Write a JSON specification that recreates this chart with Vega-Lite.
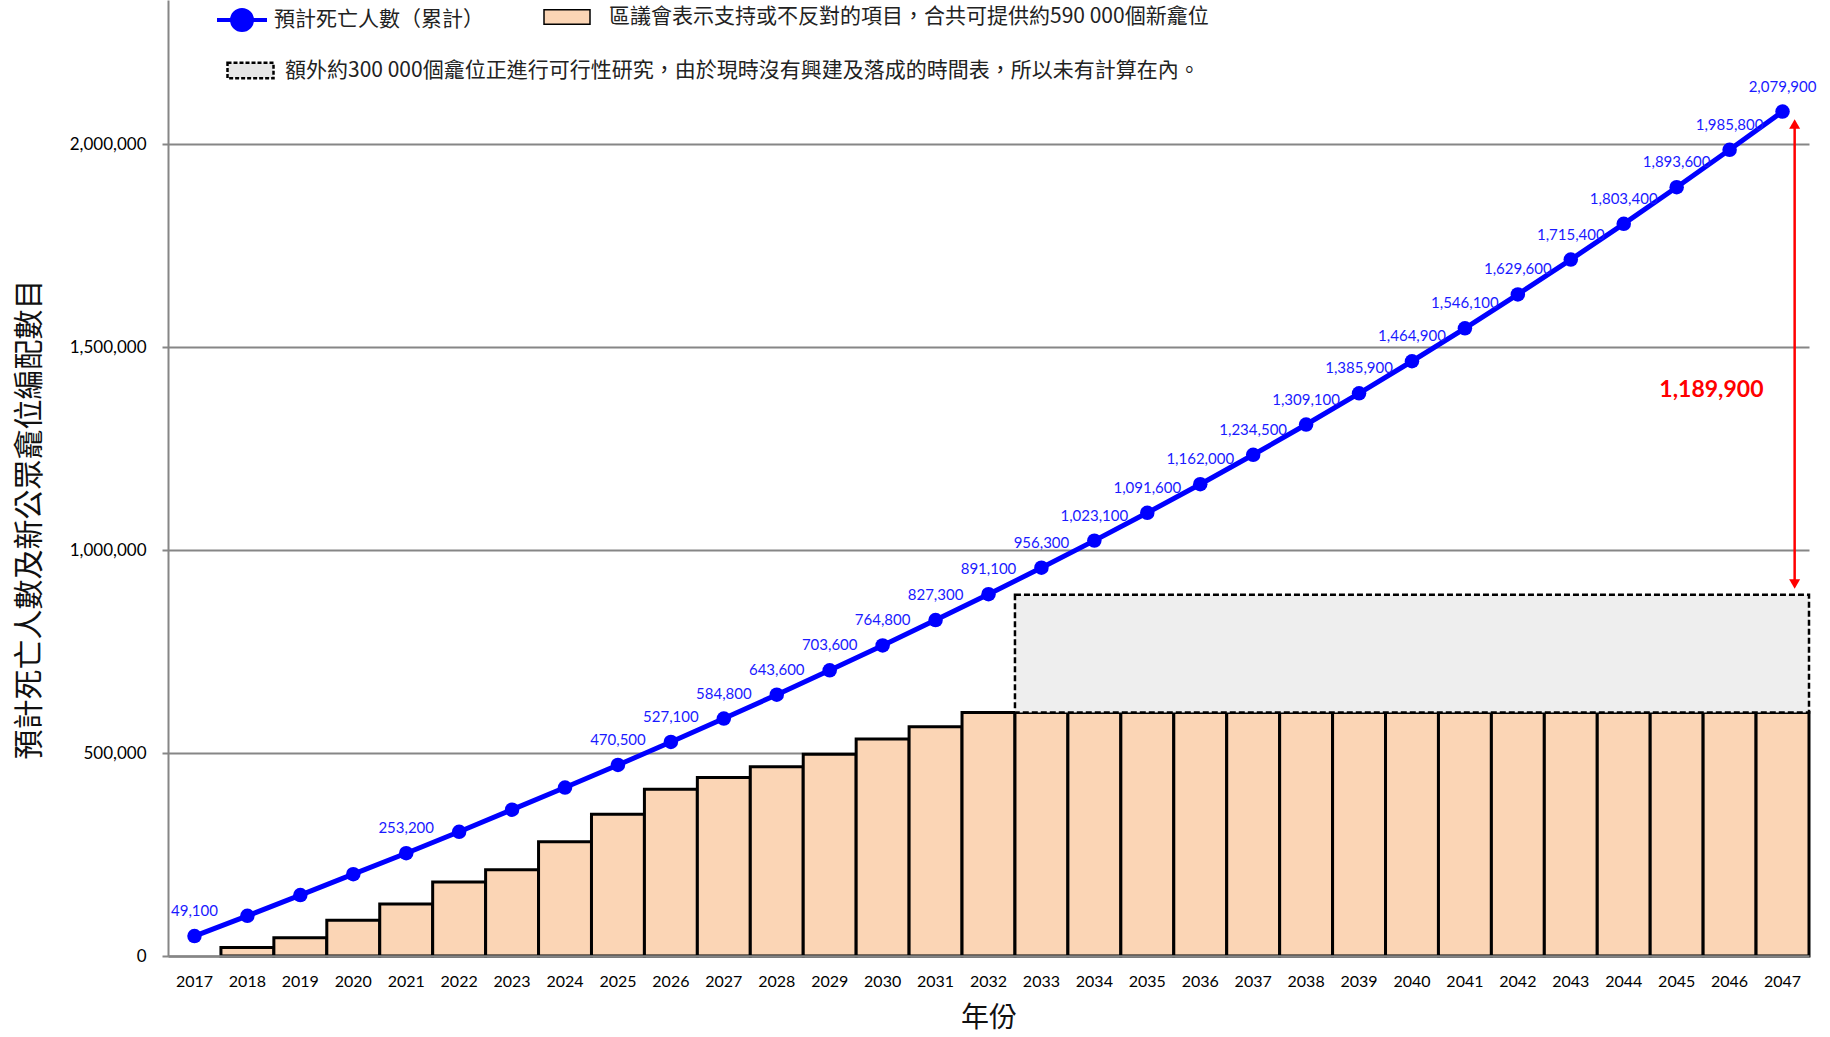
{
  "$schema": "https://vega.github.io/schema/vega-lite/v6.json",
  "width": 1641,
  "height": 956,
  "autosize": "none",
  "padding": {"left": 168, "top": 0, "right": 21, "bottom": 81},
  "background": "white",
  "config": {"view": {"stroke": null}, "font": "Lato"},
  "datasets": {
    "main": [
      {"year": 2017, "deaths": 49100, "niches": 0},
      {"year": 2018, "deaths": 99000, "niches": 21000},
      {"year": 2019, "deaths": 150000, "niches": 45000},
      {"year": 2020, "deaths": 201500, "niches": 88000},
      {"year": 2021, "deaths": 253200, "niches": 128000},
      {"year": 2022, "deaths": 306000, "niches": 182000},
      {"year": 2023, "deaths": 360500, "niches": 212500},
      {"year": 2024, "deaths": 415000, "niches": 281500},
      {"year": 2025, "deaths": 470500, "niches": 349000},
      {"year": 2026, "deaths": 527100, "niches": 411000},
      {"year": 2027, "deaths": 584800, "niches": 439500},
      {"year": 2028, "deaths": 643600, "niches": 466000},
      {"year": 2029, "deaths": 703600, "niches": 497000},
      {"year": 2030, "deaths": 764800, "niches": 534500},
      {"year": 2031, "deaths": 827300, "niches": 564500},
      {"year": 2032, "deaths": 891100, "niches": 600000},
      {"year": 2033, "deaths": 956300, "niches": 600000},
      {"year": 2034, "deaths": 1023100, "niches": 600000},
      {"year": 2035, "deaths": 1091600, "niches": 600000},
      {"year": 2036, "deaths": 1162000, "niches": 600000},
      {"year": 2037, "deaths": 1234500, "niches": 600000},
      {"year": 2038, "deaths": 1309100, "niches": 600000},
      {"year": 2039, "deaths": 1385900, "niches": 600000},
      {"year": 2040, "deaths": 1464900, "niches": 600000},
      {"year": 2041, "deaths": 1546100, "niches": 600000},
      {"year": 2042, "deaths": 1629600, "niches": 600000},
      {"year": 2043, "deaths": 1715400, "niches": 600000},
      {"year": 2044, "deaths": 1803400, "niches": 600000},
      {"year": 2045, "deaths": 1893600, "niches": 600000},
      {"year": 2046, "deaths": 1985800, "niches": 600000},
      {"year": 2047, "deaths": 2079900, "niches": 600000}
    ],
    "extra": [
      {"from": 2033, "to": 2047, "low": 600000, "high": 890000}
    ],
    "gap": [
      {"year": 2047, "top": 2049000, "bottom": 916500, "labelYear": 2046, "labelY": 1395000, "text": "1,189,900"}
    ]
  },
  "layer": [
    {
      "data": {"name": "main"},
      "transform": [{"filter": "datum.niches > 0"}],
      "mark": {"type": "bar", "stroke": "black", "strokeWidth": 3},
      "encoding": {
        "x": {
          "field": "year", "type": "ordinal",
          "scale": {"type": "band", "paddingInner": 0, "paddingOuter": 0},
          "axis": {
            "title": "年份", "labelAngle": 0, "ticks": false, "grid": false,
            "domainColor": "#868686", "domainWidth": 2.5,
            "labelFont": "Lato", "labelFontSize": 16, "labelColor": "#000", "labelPadding": 17,
            "titleFont": "Noto Sans CJK TC", "titleFontSize": 28, "titleFontWeight": "normal", "titleColor": "#111",
            "titleY": 62, "titleBaseline": "middle", "zindex": 1
          }
        },
        "y": {
          "field": "niches", "type": "quantitative",
          "scale": {"domain": [0, 2354680], "nice": false, "zero": true},
          "axis": {
            "values": [0, 500000, 1000000, 1500000, 2000000], "format": ",d",
            "grid": true, "gridColor": "#868686", "gridWidth": 2,
            "domainColor": "#868686", "domainWidth": 2,
            "tickColor": "#868686", "tickWidth": 2, "tickSize": 6,
            "labelFont": "Lato", "labelFontSize": 17, "labelColor": "#000", "labelPadding": 16,
            "title": "預計死亡人數及新公眾龕位編配數目",
            "titleFont": "Noto Sans CJK TC", "titleFontSize": 30, "titleFontWeight": "normal", "titleColor": "#111",
            "titleX": -139, "titleY": 519, "titleAngle": -90, "titleBaseline": "middle", "titleAlign": "center"
          }
        },
        "fill": {
          "datum": "區議會表示支持或不反對的項目，合共可提供約590 000個新龕位",
          "scale": {"range": ["#FBD5B5"]},
          "legend": {
            "orient": "none", "legendX": 375, "legendY": -7, "title": null, "padding": 0,
            "symbolType": "M-1,-0.32H1V0.32H-1Z", "symbolSize": 2116,
            "labelFont": "Noto Sans CJK TC", "labelFontSize": 21, "labelColor": "#222", "labelLimit": 2000, "labelOffset": 18,
            "encode": {"symbols": {"update": {"fill": {"value": "#FBD5B5"}, "stroke": {"value": "black"}, "strokeWidth": {"value": 3}, "opacity": {"value": 1}}}}
          }
        }
      }
    },
    {
      "data": {"name": "extra"},
      "mark": {"type": "rect", "fill": "#eeeeee", "stroke": "black", "strokeWidth": 2.5, "strokeDash": [6, 3]},
      "encoding": {
        "x": {"field": "from", "type": "ordinal", "bandPosition": 0},
        "x2": {"field": "to", "bandPosition": 1},
        "y": {"field": "low", "type": "quantitative"},
        "y2": {"field": "high"}
      }
    },
    {
      "data": {"name": "extra"},
      "mark": {"type": "rule", "strokeWidth": 2.5, "strokeOpacity": 0},
      "encoding": {
        "x": {"field": "from", "type": "ordinal"},
        "y": {"field": "high", "type": "quantitative"},
        "strokeDash": {
          "datum": "額外約300 000個龕位正進行可行性研究，由於現時沒有興建及落成的時間表，所以未有計算在內。",
          "scale": {"range": [[4, 2]]},
          "legend": {
            "orient": "none", "legendX": 58, "legendY": 46, "title": null, "padding": 0,
            "symbolType": "M-1,-0.34H1V0.34H-1Z", "symbolSize": 2116,
            "symbolStrokeWidth": 2.5, "symbolFillColor": "#e6e6e6", "symbolStrokeColor": "black", "symbolOpacity": 1,
            "labelFont": "Noto Sans CJK TC", "labelFontSize": 21, "labelColor": "#222", "labelLimit": 2000, "labelOffset": 10,
            "encode": {"symbols": {"update": {"fill": {"value": "#e6e6e6"}, "stroke": {"value": "black"}, "strokeWidth": {"value": 2.5}, "strokeDash": {"value": [4, 2]}, "opacity": {"value": 1}, "strokeOpacity": {"value": 1}, "fillOpacity": {"value": 1}}}}
          }
        }
      }
    },
    {
      "data": {"name": "main"},
      "mark": {"type": "line", "strokeWidth": 5},
      "encoding": {
        "x": {"field": "year", "type": "ordinal"},
        "y": {"field": "deaths", "type": "quantitative"},
        "color": {
          "datum": "預計死亡人數（累計）",
          "scale": {"range": ["#0000FF"]},
          "legend": {
            "orient": "none", "legendX": 47, "legendY": -7, "title": null, "padding": 0,
            "symbolType": "M-1,0H1M0.4,0A0.4,0.4,0,1,1,-0.4,0A0.4,0.4,0,1,1,0.4,0Z", "symbolSize": 2500,
            "labelFont": "Noto Sans CJK TC", "labelFontSize": 21, "labelColor": "#222", "labelLimit": 2000, "labelOffset": 5,
            "encode": {"symbols": {"update": {"fill": {"value": "#0000FF"}, "stroke": {"value": "#0000FF"}, "strokeWidth": {"value": 4}, "opacity": {"value": 1}}}}
          }
        }
      }
    },
    {
      "data": {"name": "main"},
      "mark": {"type": "point", "filled": true, "size": 210, "color": "#0000FF", "opacity": 1},
      "encoding": {
        "x": {"field": "year", "type": "ordinal"},
        "y": {"field": "deaths", "type": "quantitative"}
      }
    },
    {
      "data": {"name": "main"},
      "transform": [{"filter": "datum.year == 2017 || datum.year == 2021 || datum.year >= 2025"}],
      "mark": {"type": "text", "font": "Lato", "fontSize": 15, "color": "#1a1aff", "dy": -25, "baseline": "middle", "align": "center"},
      "encoding": {
        "x": {"field": "year", "type": "ordinal"},
        "y": {"field": "deaths", "type": "quantitative"},
        "text": {"field": "deaths", "type": "quantitative", "format": ",d"}
      }
    },
    {
      "data": {"name": "gap"},
      "mark": {"type": "rule", "color": "#FF0000", "strokeWidth": 2.5},
      "encoding": {
        "x": {"field": "year", "type": "ordinal", "bandPosition": 0.729},
        "y": {"field": "top", "type": "quantitative"},
        "y2": {"field": "bottom"}
      }
    },
    {
      "data": {"name": "gap"},
      "mark": {"type": "point", "shape": "triangle-up", "filled": true, "color": "#FF0000", "size": 121, "opacity": 1},
      "encoding": {
        "x": {"field": "year", "type": "ordinal", "bandPosition": 0.729},
        "y": {"field": "top", "type": "quantitative"}
      }
    },
    {
      "data": {"name": "gap"},
      "mark": {"type": "point", "shape": "triangle-down", "filled": true, "color": "#FF0000", "size": 121, "opacity": 1},
      "encoding": {
        "x": {"field": "year", "type": "ordinal", "bandPosition": 0.729},
        "y": {"field": "bottom", "type": "quantitative"}
      }
    },
    {
      "data": {"name": "gap"},
      "mark": {"type": "text", "font": "Lato", "fontSize": 23, "fontWeight": "bold", "color": "#FF0000", "align": "center", "baseline": "middle"},
      "encoding": {
        "x": {"field": "labelYear", "type": "ordinal", "bandPosition": 0.157},
        "y": {"field": "labelY", "type": "quantitative"},
        "text": {"field": "text"}
      }
    }
  ]
}
